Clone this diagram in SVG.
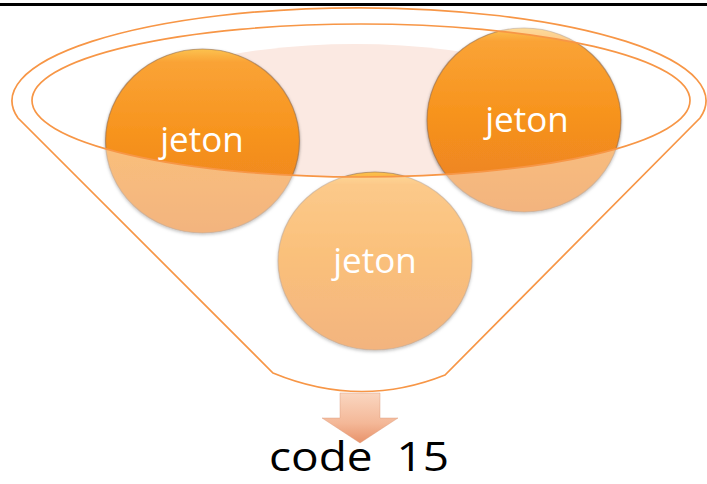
<svg xmlns="http://www.w3.org/2000/svg" width="707" height="484" viewBox="0 0 707 484">
<style>
.lbl{font-family:"Open Sans","Liberation Sans",sans-serif;font-size:35px;fill:#ffffff;text-anchor:middle}
.tok{fill:url(#tokGrad);stroke:#8c6a50;stroke-opacity:0.55;stroke-width:1.2;filter:url(#shadow)}
.funnel{fill:#ffffff;fill-opacity:0.42;fill-rule:evenodd;stroke:#F79646;stroke-width:1.7}
</style>
<defs>
<linearGradient id="tokGrad" x1="0" y1="0" x2="0" y2="1">
<stop offset="0" stop-color="#FCC24F"/>
<stop offset="0.07" stop-color="#FAA336"/>
<stop offset="0.45" stop-color="#F7941E"/>
<stop offset="1" stop-color="#EA7E22"/>
</linearGradient>
<linearGradient id="arrowGrad" x1="0" y1="0" x2="0" y2="1">
<stop offset="0" stop-color="#FAD6C0"/>
<stop offset="0.6" stop-color="#F4B898"/>
<stop offset="1" stop-color="#E8926A"/>
</linearGradient>
<clipPath id="innerClip">
<ellipse cx="361" cy="100.5" rx="329" ry="76.5"/>
</clipPath>
<filter id="shadow" x="-10%" y="-10%" width="120%" height="125%">
<feDropShadow dx="0" dy="1.5" stdDeviation="1.5" flood-color="#000" flood-opacity="0.4"/>
</filter>
</defs>
<rect x="0" y="0" width="707" height="484" fill="#ffffff"/>
<rect x="0" y="3" width="707" height="3" fill="#000000"/>
<ellipse cx="355" cy="118" rx="240" ry="74" fill="#FBE9E2" clip-path="url(#innerClip)"/>
<g id="token-left">
<ellipse class="tok" cx="202.5" cy="141" rx="97" ry="92"/>
<text class="lbl" x="202" y="152">jeton</text>
</g>
<g id="token-right">
<ellipse class="tok" cx="524" cy="120" rx="97" ry="92"/>
<text class="lbl" x="527" y="132">jeton</text>
</g>
<g id="token-bottom">
<ellipse class="tok" cx="375" cy="261" rx="97" ry="89"/>
<text class="lbl" x="375" y="273">jeton</text>
</g>
<g id="funnel">
<path class="funnel" d="M 18,118 A 347 93 0 1 1 700,118 L 445,375 Q 360,409 273,373 Z M 32,100.5 A 329 76.5 0 1 0 690,100.5 A 329 76.5 0 1 0 32,100.5 Z"/>
</g>
<g id="connectors">
<path d="M 340,393 L 380,393 L 380,418 L 398,418 L 360,443 L 322,418 L 340,418 Z" fill="url(#arrowGrad)" stroke="#d99878" stroke-opacity="0.5" stroke-width="0.8"/>
</g>
<g id="result">
<text x="359" y="471" font-family="'Open Sans','Liberation Sans',sans-serif" font-size="41" fill="#000000" text-anchor="middle" textLength="180" lengthAdjust="spacingAndGlyphs" xml:space="preserve">code  15</text>
</g>
</svg>
